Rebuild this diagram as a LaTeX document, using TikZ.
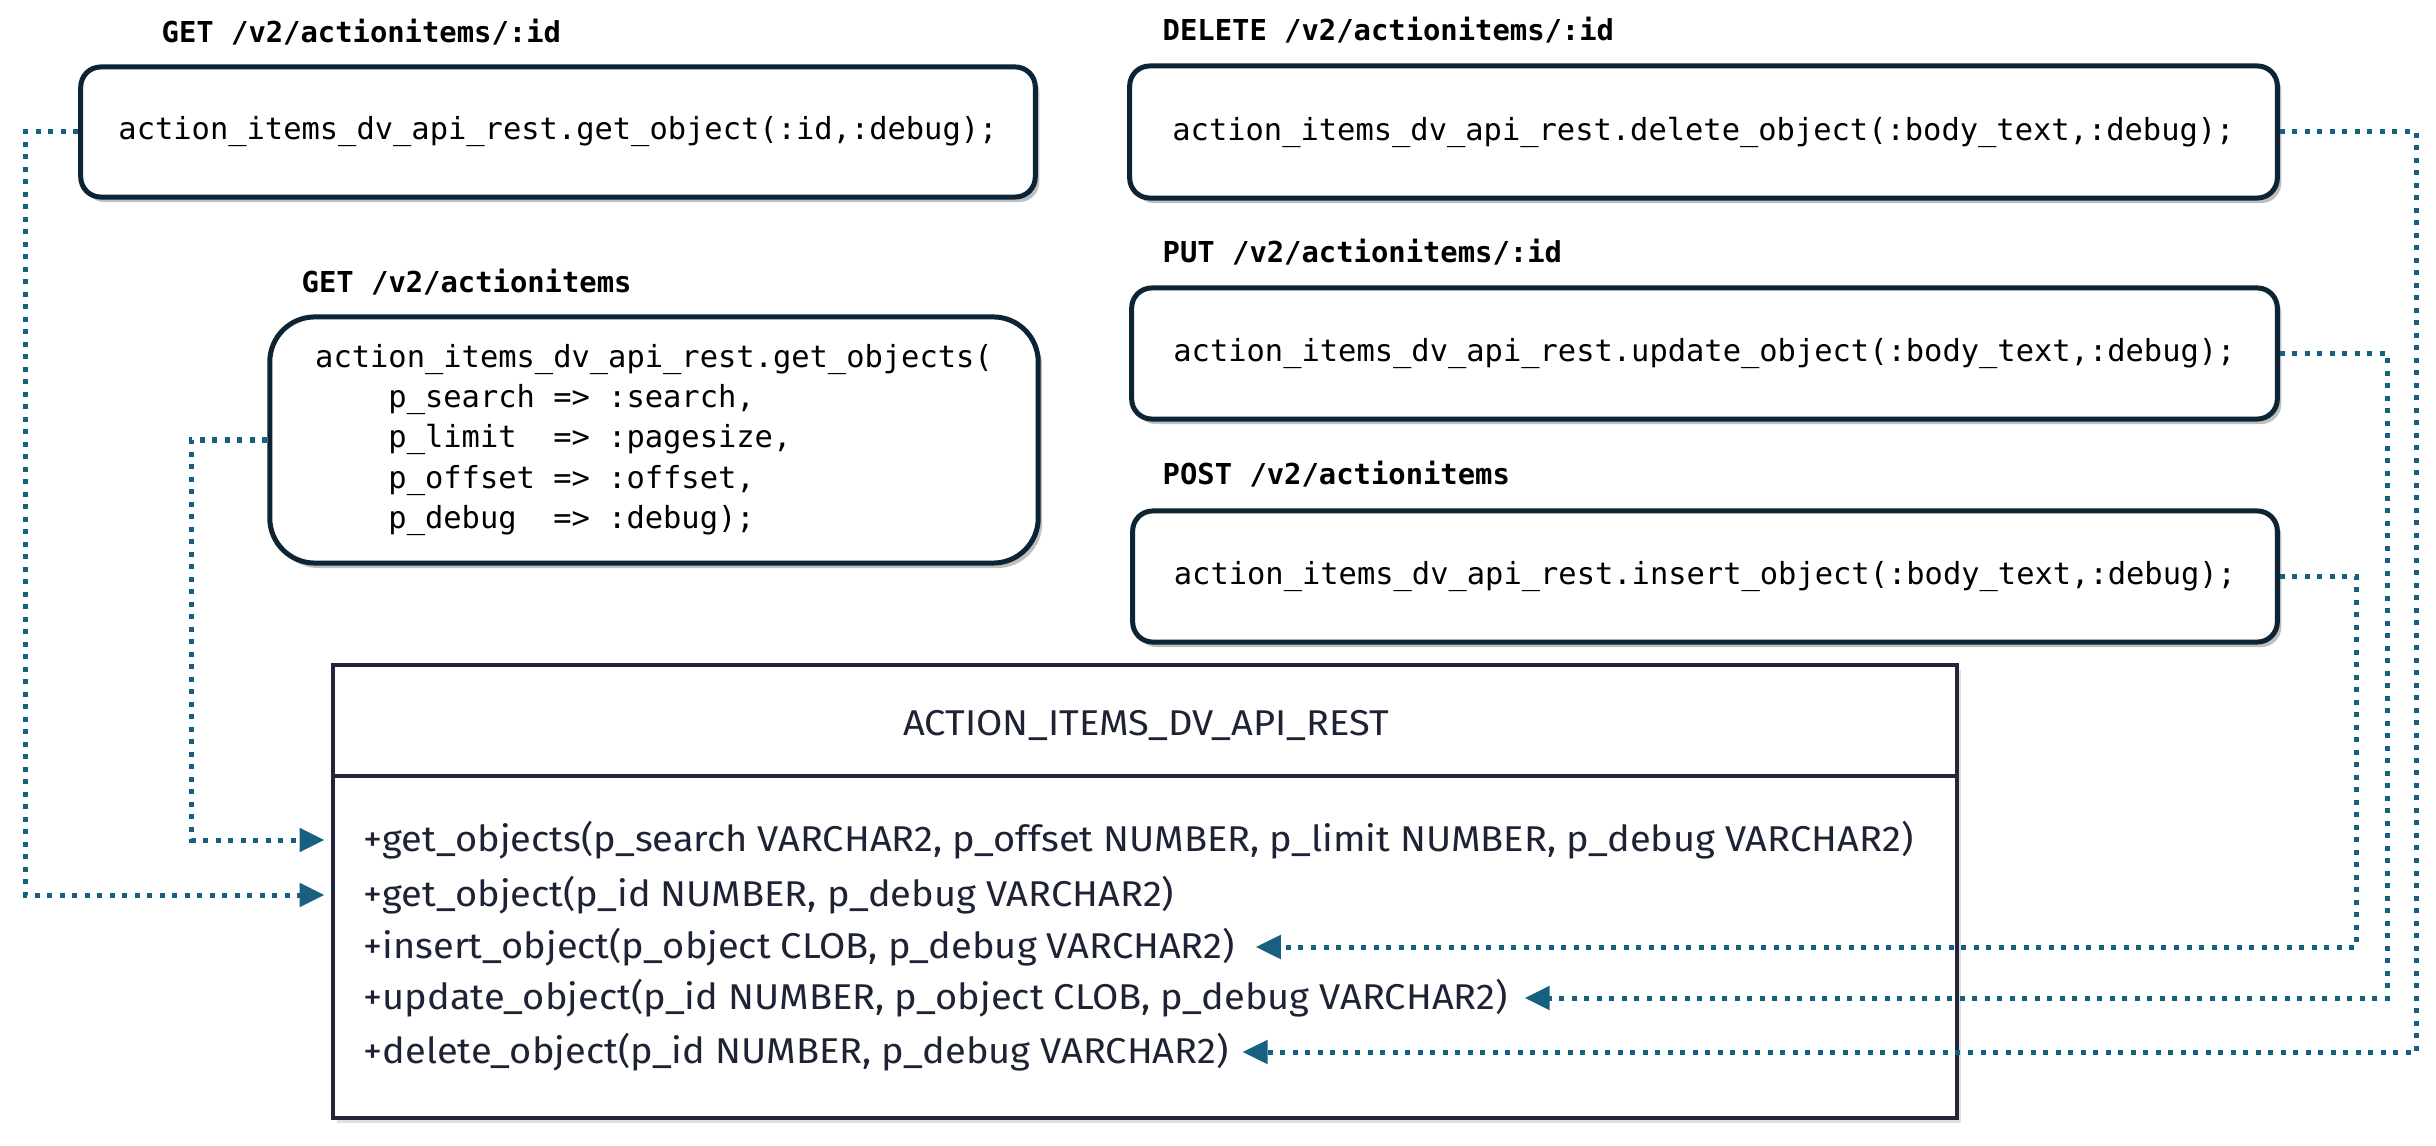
\documentclass[tikz,border=0pt]{standalone}
\usepackage{fontspec}
\newfontfamily\codefont{DejaVu Sans Mono}
\newfontfamily\umlfont[FakeStretch=1.06]{Fira Sans}
\usetikzlibrary{arrows.meta,shadows,calc}
\definecolor{boxline}{HTML}{0C2434}
\definecolor{conncol}{HTML}{17607F}
\definecolor{umlline}{HTML}{24243A}
\definecolor{umltext}{HTML}{1E2235}
\tikzset{
  codebox/.style={draw=boxline, line width=0.05cm, fill=white, rounded corners=0.2cm,
    drop shadow={shadow xshift=0.04cm, shadow yshift=-0.05cm, opacity=0.25, fill=black},
    font=\codefont\fontsize{8.65}{11.4}\selectfont, inner sep=0pt},
  ep/.style={anchor=west, font=\codefont\bfseries\fontsize{8.2}{10}\selectfont, inner sep=0pt},
  meth/.style={anchor=west, font=\umlfont\fontsize{10.2}{12}\selectfont, text=umltext, inner sep=0pt},
  conn/.style={draw=conncol, line width=0.05cm, dash pattern=on 0.05cm off 0.075cm,
    -{Triangle[length=0.25cm,width=0.23cm]}, fill=none},
}
\begin{document}
\begin{tikzpicture}[x=0.01cm, y=-0.01cm]
\useasboundingbox (0,0) rectangle (2436,1146);
\fill[white] (0,0) rectangle (2436,1146);

% endpoint titles
\node[ep] (t1) at (161,32) {GET /v2/actionitems/:id};
\node[ep] (t2) at (301,282) {GET /v2/actionitems};
\node[ep] (t3) at (1162,30) {DELETE /v2/actionitems/:id};
\node[ep] (t4) at (1162,252) {PUT /v2/actionitems/:id};
\node[ep] (t5) at (1162,474) {POST /v2/actionitems};

% code boxes
\node[codebox, minimum width=9.54cm, minimum height=1.30cm] (b1) at (558,132)
  {action\_items\_dv\_api\_rest.get\_object(:id,:debug);};
\node[codebox, rounded corners=0.45cm, minimum width=7.68cm, minimum height=2.46cm, align=left] (b2) at (654,440)
  {action\_items\_dv\_api\_rest.get\_objects(\\
  \hphantom{xxxx}p\_search =>~:search,\\
  \hphantom{xxxx}p\_limit~~=>~:pagesize,\\
  \hphantom{xxxx}p\_offset =>~:offset,\\
  \hphantom{xxxx}p\_debug~~=>~:debug);};
\node[codebox, minimum width=11.47cm, minimum height=1.32cm] (b3) at (1703.5,132)
  {action\_items\_dv\_api\_rest.delete\_object(:body\_text,:debug);};
\node[codebox, minimum width=11.45cm, minimum height=1.31cm] (b4) at (1704.5,353.5)
  {action\_items\_dv\_api\_rest.update\_object(:body\_text,:debug);};
\node[codebox, minimum width=11.44cm, minimum height=1.31cm] (b5) at (1705,576.5)
  {action\_items\_dv\_api\_rest.insert\_object(:body\_text,:debug);};

% UML class box
\node[draw=umlline, line width=0.04cm, fill=white, minimum width=16.24cm, minimum height=4.53cm, inner sep=0pt,
  drop shadow={shadow xshift=0.04cm, shadow yshift=-0.05cm, opacity=0.12, fill=black}] (uml) at (1145,891.5) {};
\draw[umlline, line width=0.04cm] ($(uml.north west)+(0,113)$) coordinate (dl) -- (dl -| uml.east);
\node[font=\umlfont\fontsize{10.2}{12}\selectfont, text=umltext, inner sep=0pt] (ut) at (1146,725) {ACTION\_ITEMS\_DV\_API\_REST};
\node[meth] (m1) at (363,840) {+get\_objects(p\_search VARCHAR2, p\_offset NUMBER, p\_limit NUMBER, p\_debug VARCHAR2)};
\node[meth] (m2) at (363,895) {+get\_object(p\_id NUMBER, p\_debug VARCHAR2)};
\node[meth] (m3) at (363,947) {+insert\_object(p\_object CLOB, p\_debug VARCHAR2)};
\node[meth] (m4) at (363,998) {+update\_object(p\_id NUMBER, p\_object CLOB, p\_debug VARCHAR2)};
\node[meth] (m5) at (363,1052) {+delete\_object(p\_id NUMBER, p\_debug VARCHAR2)};

% connectors
\draw[conn, shorten >=0.06cm] (b1.west) -- ++(-53,0) |- (m2 -| uml.west);
\draw[conn, shorten >=0.06cm] (b2.west) -- ++(-76,0) |- (m1 -| uml.west);
\draw[conn, shorten >=0.2cm] (b5.east) -- ++(77,0) |- (m3.east);
\draw[conn, shorten >=0.16cm] (b4.east) -- ++(108,0) |- (m4.east);
\draw[conn, shorten >=0.13cm] (b3.east) -- ++(137,0) |- (m5.east);
\end{tikzpicture}
\end{document}
